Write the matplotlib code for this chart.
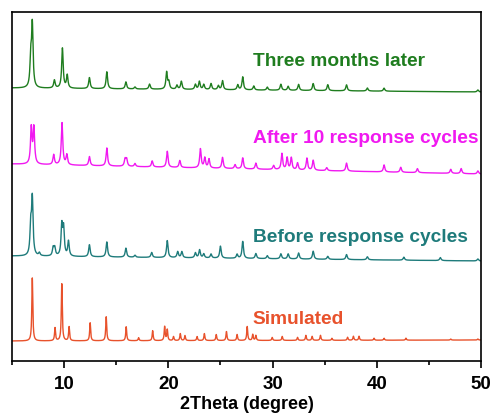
import numpy as np
import matplotlib.pyplot as plt

plt.rcParams['font.family'] = ['Liberation Sans', 'DejaVu Sans']

# peak positions (2theta) and heights, per pattern
sim_pos = [6.95, 9.13, 9.78, 10.48, 12.5, 14.04, 15.96, 17.15, 18.5, 19.65, 19.9,
           20.5, 21.15, 21.6, 22.76, 23.46, 24.6, 25.58, 26.6, 27.57, 28.1, 28.4,
           29.97, 30.93, 32.4, 33.2, 33.8, 34.6, 35.7, 37.2, 37.76, 38.3, 39.74,
           40.7, 42.8, 47.1, 49.7]
sim_h = [63, 13, 57, 14, 18, 24, 14, 3, 10, 14, 11,
         4, 7, 5, 4, 7, 6, 9, 6, 14, 6, 5,
         3, 4, 3, 5, 4, 5, 2, 3, 4, 4, 2,
         2, 2, 1, 1]

before_pos = [6.8, 6.95, 7.63, 8.95, 9.1, 9.78, 9.95, 10.42, 12.43, 14.1, 15.93,
              16.8, 18.4, 19.9, 20.9, 21.3, 22.6, 23.0, 23.4, 24.1, 25.0, 26.6,
              27.14, 28.4, 29.5, 30.8, 31.5, 32.5, 33.9, 35.3, 37.1, 39.1, 42.6,
              46.1, 49.7]
before_h = [28, 56, 3, 8, 8, 30, 27, 15, 12, 15, 9,
            2, 5, 17, 6, 6, 5, 8, 4, 4, 12, 4,
            17, 5, 3, 5, 5, 6, 8, 3, 5, 3, 3,
            3, 2]

after_pos = [6.85, 7.1, 9.0, 9.8, 10.26, 12.43, 14.1, 15.85, 16.0, 16.8, 18.45,
             19.9, 21.1, 23.08, 23.5, 23.9, 25.2, 26.4, 27.14, 28.4, 30.1, 30.9,
             31.4, 31.8, 32.4, 33.3, 33.9, 35.2, 37.1, 40.7, 42.3, 43.9, 47.1,
             48.1, 49.7]
after_h = [36, 36, 10, 42, 10, 9, 18, 7, 7, 3, 6,
           16, 7, 19, 10, 9, 11, 4, 11, 6, 4, 16,
           12, 12, 7, 12, 10, 3, 8, 7, 5, 4, 4,
           5, 3]

later_pos = [6.8, 6.95, 9.07, 9.84, 10.3, 12.43, 14.1, 15.93, 16.8, 18.2, 19.84,
             20.05, 20.83, 21.25, 22.6, 22.98, 23.4, 24.1, 24.8, 25.2, 26.66, 27.14,
             28.2, 29.5, 30.8, 31.5, 32.5, 33.9, 35.3, 37.1, 39.1, 40.7, 49.7]
later_h = [28, 62, 8, 40, 13, 11, 17, 7, 2, 5, 17,
           7, 4, 8, 5, 8, 5, 6, 4, 9, 5, 13,
           4, 3, 6, 4, 6, 7, 6, 6, 3, 3, 2]

# vertical offset of each pattern: baseline at left and right end
sim_base = [20, 21]
before_base = [105, 100]
after_base = [197, 187]
later_base = [273, 269]

labels = ['Simulated', 'Before response cycles', 'After 10 response cycles', 'Three months later']
label_y = [43, 125, 224, 300]
colors = ['#e8522c', '#1e7b7b', '#f019f0', '#1f7d1f']


def pattern(pos, h, base, fwhm):
    x = np.linspace(5, 50, 4500)
    y = np.linspace(base[0], base[1], x.size)
    g = fwhm / 2
    for p, a in zip(pos, h):
        y = y + a * g**2 / ((x - p)**2 + g**2)
    return x, y


fig = plt.figure(figsize=(4.91, 4.14), dpi=100)
ax = fig.add_axes([0.0244, 0.1256, 0.9552, 0.843])

data = [(sim_pos, sim_h, sim_base, 0.11),
        (before_pos, before_h, before_base, 0.17),
        (after_pos, after_h, after_base, 0.17),
        (later_pos, later_h, later_base, 0.17)]

for (pos, h, base, w), c, lab, ly in zip(data, colors, labels, label_y):
    x, y = pattern(pos, h, base, w)
    ax.plot(x, y, color=c, lw=1.0)
    ax.text(28.1, ly, lab, color=c, fontsize=13.8, fontweight='bold', va='center', ha='left')

ax.set_xlim(5, 50)
ax.set_ylim(0, 349)
ax.set_yticks([])
ax.set_xticks([10, 20, 30, 40, 50])
ax.set_xticks([5, 15, 25, 35, 45], minor=True)
ax.tick_params(axis='x', which='major', direction='out', length=5, width=1.2, labelsize=13.5, pad=5)
ax.tick_params(axis='x', which='minor', direction='out', length=3, width=1.2)
for lbl in ax.get_xticklabels():
    lbl.set_fontweight('bold')
for s in ax.spines.values():
    s.set_linewidth(1.2)
ax.set_xlabel('2Theta (degree)', fontsize=13, fontweight='bold', labelpad=2)

fig.savefig('out.png', dpi=100)
